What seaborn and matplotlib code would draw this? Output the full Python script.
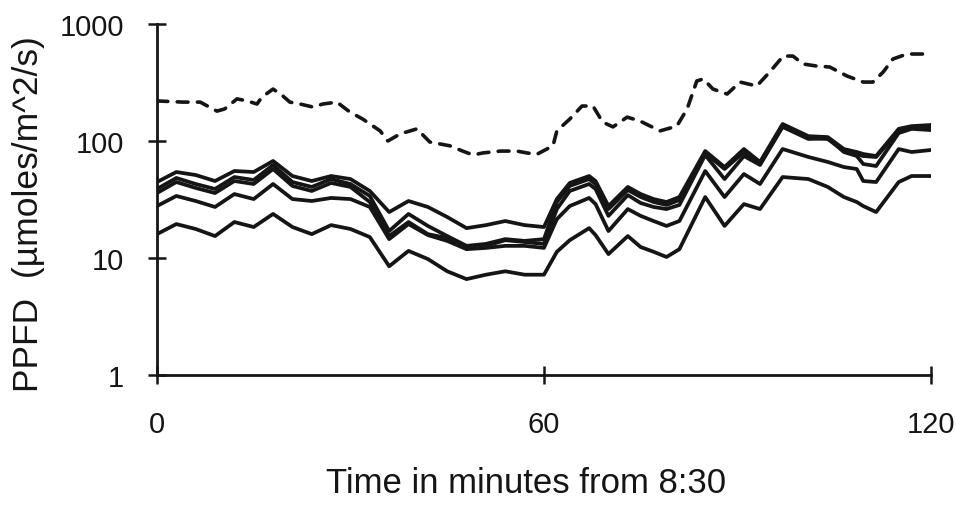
import matplotlib
matplotlib.use("Agg")
import matplotlib.pyplot as plt
import seaborn as sns
import pandas as pd

# ---- data ----
times_solid = [0, 3, 6, 9, 12, 15, 18, 21, 24, 27, 30, 33, 36, 39, 42, 45, 48, 51, 54, 57, 60,
               62, 64, 67, 68, 70, 73, 75, 77, 79, 81, 85, 88, 91, 93.5, 97, 101, 104, 106.5,
               108.5, 109.5, 111.5, 115, 117, 120]
line1 = [44.6, 54.3, 51.2, 45.5, 55.4, 54.3, 67.5, 50.2, 45.5, 50.2, 47.3, 37.4, 24.7, 30.7, 27.3,
         22.4, 18.0, 19.1, 20.7, 19.1, 18.4,
         31.9, 43.8, 50.2, 45.5, 27.8, 40.5, 35.2, 31.9, 30.1, 33.2, 82.1, 59.9, 85.4, 66.2, 139.7,
         110, 108, 85.4, 80.5, 77.4, 74.4, 127, 134, 137]
line2 = [38.9, 48.3, 42.9, 38.9, 49.2, 46.4, 62.4, 44.6, 40.5, 47.3, 42.9, 33.9, 17.0, 23.8, 18.8,
         15.4, 12.7, 13.2, 14.5, 14.0, 14.5,
         30.1, 41.3, 47.3, 42.9, 26.2, 38.1, 33.2, 30.1, 28.4, 31.3, 79.0, 57.6, 80.5, 63.6, 134,
         106, 104, 82.1, 77.4, 74.4, 73.0, 122, 132, 132]
line3 = [35.9, 44.6, 39.7, 35.9, 45.5, 42.9, 57.6, 41.3, 37.4, 43.8, 40.5, 30.1, 15.4, 20.3, 16.0,
         14.8, 12.4, 12.7, 14.2, 13.7, 13.2,
         26.2, 37.4, 42.9, 38.9, 22.9, 34.5, 29.5, 27.3, 26.2, 28.4, 75.9, 47.3, 74.4, 62.4, 132,
         104, 106, 80.5, 74.4, 63.6, 61.1, 117, 127, 124]
line4 = [27.8, 33.9, 30.7, 27.3, 35.2, 31.9, 42.9, 31.9, 30.7, 32.6, 31.9, 27.3, 14.5, 19.5, 15.7,
         14.0, 11.9, 12.2, 12.7, 12.7, 12.2,
         21.5, 27.8, 32.6, 28.9, 17.0, 26.2, 22.9, 20.7, 18.8, 20.7, 55.4, 33.2, 52.2, 42.9, 85.4,
         73.0, 66.2, 59.9, 57.6, 45.5, 44.6, 85.4, 80.5, 83.8]
line5 = [16.0, 19.5, 17.7, 15.4, 20.3, 18.4, 23.8, 18.4, 16.0, 19.1, 17.7, 15.1, 8.5, 11.5, 9.8,
         7.7, 6.6, 7.2, 7.7, 7.2, 7.2,
         11.3, 14.2, 18.0, 15.7, 10.8, 15.4, 12.4, 11.3, 10.2, 11.9, 33.2, 18.8, 28.9, 26.2, 49.2,
         47.3, 40.5, 33.2, 30.1, 27.8, 24.7, 44.6, 50.2, 50.2]

times_dashed = [0, 4.0, 6.7, 9.3, 10.5, 12.4, 14.0, 15.5, 16.3, 18.0, 19.5, 20.6, 22.2, 24.2, 25.7,
                27.9, 29.9, 31.9, 34.6, 35.8, 37.7, 40.3, 42.3, 45.4, 47.4, 49.0, 50.5, 53.2, 55.8,
                57.4, 58.9, 61.4, 62.0, 64.0, 65.9, 67.6, 69.1, 70.7, 72.9, 74.9, 78.0, 80.6, 82.2,
                83.7, 84.7, 86.2, 88.4, 90.4, 93.0, 95.0, 97.1, 98.6, 100.2, 102.3, 104.3, 107.0,
                109.5, 111.0, 112.6, 114.1, 116.3, 118.8, 120]
dashed = [220, 215, 215, 180, 188, 229, 220, 207, 238, 278, 243, 215, 207, 195, 207,
          215, 177, 154, 122, 100, 115, 127, 98, 91, 82, 76, 79, 82, 82,
          79, 77, 91, 122, 154, 199, 199, 145, 132, 160, 148, 122, 134, 188,
          326, 339, 278, 252, 319, 295, 389, 532, 532, 455, 437, 429, 359,
          319, 319, 389, 502, 554, 554, 554]

x_ticks = [0, 60, 120]
y_ticks = [1, 10, 100, 1000]
y_ticklabels = ["1", "10", "100", "1000"]
x_label = "Time in minutes from 8:30"
y_label = "PPFD  (\u00b5moles/m^2/s)"

# ---- build long tables ----
solid_rows = []
for name, vals in [("s1", line1), ("s2", line2), ("s3", line3), ("s4", line4), ("s5", line5)]:
    for t, v in zip(times_solid, vals):
        solid_rows.append({"t": t, "v": v, "series": name})
df_solid = pd.DataFrame(solid_rows)
df_dash = pd.DataFrame({"t": times_dashed, "v": dashed})

# ---- plot ----
sns.set_theme(style="white")
plt.rcParams["font.family"] = ["Liberation Sans", "DejaVu Sans"]

fig = plt.figure(figsize=(9.56, 5.06), dpi=100)
ax = fig.add_axes([0.1642, 0.2569, 0.8096, 0.6937])

ink = "#151515"
sns.lineplot(data=df_solid, x="t", y="v", units="series", estimator=None, ax=ax,
             color=ink, linewidth=2.7, solid_joinstyle="round", solid_capstyle="round",
             legend=False)
sns.lineplot(data=df_dash, x="t", y="v", ax=ax, color=ink, linewidth=2.6,
             linestyle=(0, (3.0, 2.6)), dash_capstyle="round", legend=False)

ax.set_yscale("log")
ax.set_xlim(0, 120)
ax.set_ylim(1, 1000)
ax.set_xticks(x_ticks)
ax.set_xticklabels([str(x) for x in x_ticks])
ax.set_yticks(y_ticks)
ax.set_yticklabels(y_ticklabels)
ax.yaxis.set_minor_locator(matplotlib.ticker.NullLocator())

for side in ["top", "right"]:
    ax.spines[side].set_visible(False)
for side in ["left", "bottom"]:
    ax.spines[side].set_color(ink)
    ax.spines[side].set_linewidth(2.0)

ax.tick_params(axis="both", which="major", direction="inout", length=13, width=1.8,
               color=ink, labelsize=21, labelcolor=ink, bottom=True, left=True)
ax.tick_params(axis="y", pad=17)
ax.tick_params(axis="x", pad=19)

ax.set_xlabel(x_label, fontsize=25, color=ink)
ax.set_ylabel(y_label, fontsize=25.5, color=ink)
ax.xaxis.set_label_coords(0.477, -0.2593)
ax.xaxis.label.set_verticalalignment("top")
ax.yaxis.set_label_coords(-0.145, 0.462)

ax.grid(False)
fig.savefig("out.png", dpi=100, facecolor="white")
